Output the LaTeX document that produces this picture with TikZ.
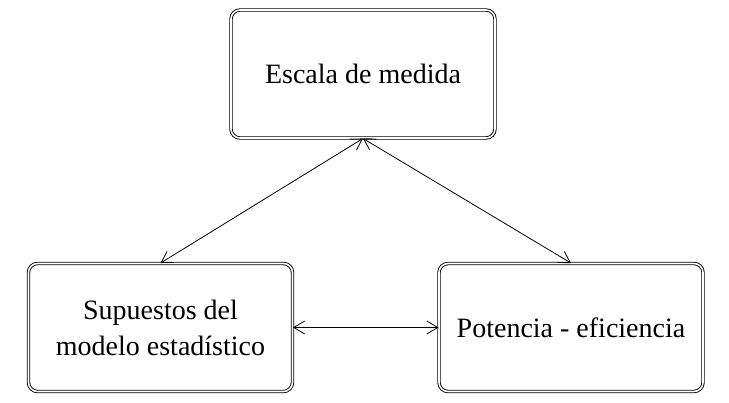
\documentclass[tikz,border=0pt]{standalone}
\usepackage{fontspec}
\setmainfont{Liberation Serif}
\usetikzlibrary{arrows.meta}
\begin{document}
\begin{tikzpicture}[x=1pt,y=-1pt,
  box/.style={draw, double, double distance=1.6pt, line width=0.9pt, rounded corners=9pt,
    minimum width=264pt, minimum height=128pt, align=center, inner sep=0pt,
    font=\fontsize{28}{36}\selectfont},
  link/.style={line width=0.8pt, {Straight Barb[length=11pt,width=13pt]}-{Straight Barb[length=11pt,width=13pt]}}]
\useasboundingbox (0,0) rectangle (729,403);
\node[box] (top) at (363,74) {Escala de medida};
\node[box] (left) at (160.5,327.5) {Supuestos del\\modelo estadístico};
\node[box] (right) at (571,327.5) {Potencia - eficiencia};
\draw[link] (top.south) -- (left.north);
\draw[link] (top.south) -- (right.north);
\draw[link] (left.east) -- (right.west);
\end{tikzpicture}
\end{document}
